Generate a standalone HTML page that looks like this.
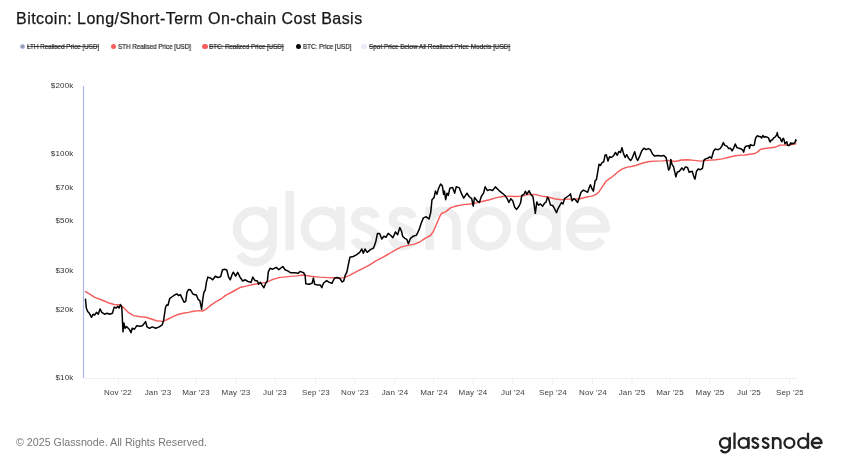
<!DOCTYPE html>
<html><head><meta charset="utf-8"><title>Bitcoin: Long/Short-Term On-chain Cost Basis</title>
<style>
html,body{margin:0;padding:0;background:#fff;}
body{width:849px;height:466px;position:relative;overflow:hidden;font-family:"Liberation Sans",sans-serif;}
#clip{position:absolute;left:0;top:0;width:802.5px;height:420px;overflow:hidden;}
.title{position:absolute;left:15.8px;top:8.7px;font-size:16px;color:#161616;-webkit-text-stroke:0.25px #161616;white-space:nowrap;letter-spacing:0.46px;line-height:20px;}
.lg{position:absolute;top:41.6px;height:9px;line-height:9px;font-size:7px;color:#1c1c1c;-webkit-text-stroke:0.18px #1c1c1c;white-space:nowrap;transform-origin:0 50%;}
.lg.off::after{content:"";position:absolute;left:0;right:0;top:4.4px;height:0.8px;background:rgba(28,28,28,0.75);}
.title,.lg,.yl,.xl,.foot,.logo,.wm{will-change:transform;}
.dot{position:absolute;top:43.7px;width:5.2px;height:5.2px;border-radius:50%;}
.yl{position:absolute;left:30px;width:43.4px;text-align:right;font-size:8px;line-height:10px;color:#333;letter-spacing:0.15px;}
.xl{position:absolute;top:387px;width:60px;text-align:center;font-size:8px;line-height:11px;color:#3c3c3c;white-space:nowrap;letter-spacing:0.15px;}
.wm{position:absolute;left:231px;top:171px;font-size:83px;line-height:96px;color:#ececec;-webkit-text-stroke:1.2px #ececec;white-space:nowrap;}
.foot{position:absolute;left:15.8px;top:435.2px;font-size:10.7px;line-height:14px;color:#777;white-space:nowrap;}
.logo{position:absolute;left:717.3px;top:427.5px;font-size:22.7px;line-height:28px;color:#222;white-space:nowrap;-webkit-text-stroke:0.35px #222;letter-spacing:0.22px;}
svg{position:absolute;left:0;top:0;}
</style></head><body>
<div class="title">Bitcoin: Long/Short-Term On-chain Cost Basis</div>
<div class="dot" style="left:20.1px;background:#999;box-sizing:border-box;border:0.9px solid #a9b8f3"></div><div class="lg off" style="left:26.8px;transform:scaleX(0.897)">LTH Realised Price [USD]</div>
<div class="dot" style="left:110.6px;background:#fb5d5d"></div><div class="lg" style="left:117.7px;transform:scaleX(0.893)">STH Realised Price [USD]</div>
<div class="dot" style="left:202.4px;background:#fb5d5d"></div><div class="lg off" style="left:209.4px;transform:scaleX(0.891)">BTC: Realized Price [USD]</div>
<div class="dot" style="left:295.6px;background:#0a0a0a"></div><div class="lg" style="left:302.7px;transform:scaleX(0.891)">BTC: Price [USD]</div>
<div class="dot" style="left:361.4px;background:#ebebfa"></div><div class="lg off" style="left:368.7px;transform:scaleX(0.911)">Spot Price Below All Realized Price Models [USD]</div>
<div id="clip">
<div class="yl" style="top:80.9px">$200k</div><div class="yl" style="top:148.5px">$100k</div><div class="yl" style="top:183.2px">$70k</div><div class="yl" style="top:216.0px">$50k</div><div class="yl" style="top:265.8px">$30k</div><div class="yl" style="top:305.3px">$20k</div><div class="yl" style="top:372.9px">$10k</div>
<div class="xl" style="left:88.4px">Nov '22</div><div class="xl" style="left:128.0px">Jan '23</div><div class="xl" style="left:166.2px">Mar '23</div><div class="xl" style="left:205.8px">May '23</div><div class="xl" style="left:245.3px">Jul '23</div><div class="xl" style="left:285.5px">Sep '23</div><div class="xl" style="left:325.1px">Nov '23</div><div class="xl" style="left:364.7px">Jan '24</div><div class="xl" style="left:403.6px">Mar '24</div><div class="xl" style="left:443.1px">May '24</div><div class="xl" style="left:482.7px">Jul '24</div><div class="xl" style="left:522.9px">Sep '24</div><div class="xl" style="left:562.5px">Nov '24</div><div class="xl" style="left:602.0px">Jan '25</div><div class="xl" style="left:640.3px">Mar '25</div><div class="xl" style="left:679.8px">May '25</div><div class="xl" style="left:719.4px">Jul '25</div><div class="xl" style="left:759.6px">Sep '25</div>
<svg width="849" height="466" viewBox="0 0 849 466">
<defs><g id="wmk" fill="none" stroke-width="8.4" stroke-linecap="butt" stroke-linejoin="round">
<circle cx="22.05" cy="-21.5" r="17.85"/><path d="M39.9,-43.4 V-5.65 A17.85,17.85 0 0 1 6.91,3.81"/>
<path d="M57.05,-59.2 V0"/>
<circle cx="89.9" cy="-21.5" r="17.85"/><path d="M107.75,-43.4 V0"/>
<path id="ess" d="M143.2,-32.2 C141.5,-36.8 137.5,-39.1 132.6,-39.1 C126.6,-39.1 122.6,-35.8 122.6,-31.3 C122.6,-26.5 126.5,-24.5 132.3,-22.3 C138.8,-19.9 142.9,-17.5 142.9,-12.2 C142.9,-7 138.5,-3.9 132.5,-3.9 C127,-3.9 123.5,-6.8 122.2,-11.3"/>
<use href="#ess" x="37.4"/>
<path d="M196.9,-43.4 V0 M196.9,-25.85 A13.45,13.45 0 0 1 223.8,-25.85 V0"/>
<circle cx="256.3" cy="-21.5" r="17.85"/>
<circle cx="306" cy="-21.5" r="17.85"/><path d="M323.85,-58.6 V0"/>
<path d="M337.45,-21.5 H373.15 A17.85,17.85 0 1 0 369.37,-10.51"/>
</g></defs>
<use href="#wmk" transform="translate(232.7,250.1)" stroke="#eeeeee"/>
<line x1="83.5" y1="86" x2="83.5" y2="378" stroke="#a9b8ee" stroke-width="1.2"/>
<line x1="84" y1="378.5" x2="797" y2="378.5" stroke="#f0f0f0" stroke-width="1"/>
<line x1="118.4" y1="378.5" x2="118.4" y2="384" stroke="#efefef" stroke-width="1"/><line x1="158.0" y1="378.5" x2="158.0" y2="384" stroke="#efefef" stroke-width="1"/><line x1="196.2" y1="378.5" x2="196.2" y2="384" stroke="#efefef" stroke-width="1"/><line x1="235.8" y1="378.5" x2="235.8" y2="384" stroke="#efefef" stroke-width="1"/><line x1="275.3" y1="378.5" x2="275.3" y2="384" stroke="#efefef" stroke-width="1"/><line x1="315.5" y1="378.5" x2="315.5" y2="384" stroke="#efefef" stroke-width="1"/><line x1="355.1" y1="378.5" x2="355.1" y2="384" stroke="#efefef" stroke-width="1"/><line x1="394.7" y1="378.5" x2="394.7" y2="384" stroke="#efefef" stroke-width="1"/><line x1="433.6" y1="378.5" x2="433.6" y2="384" stroke="#efefef" stroke-width="1"/><line x1="473.1" y1="378.5" x2="473.1" y2="384" stroke="#efefef" stroke-width="1"/><line x1="512.7" y1="378.5" x2="512.7" y2="384" stroke="#efefef" stroke-width="1"/><line x1="552.9" y1="378.5" x2="552.9" y2="384" stroke="#efefef" stroke-width="1"/><line x1="592.5" y1="378.5" x2="592.5" y2="384" stroke="#efefef" stroke-width="1"/><line x1="632.0" y1="378.5" x2="632.0" y2="384" stroke="#efefef" stroke-width="1"/><line x1="670.3" y1="378.5" x2="670.3" y2="384" stroke="#efefef" stroke-width="1"/><line x1="709.8" y1="378.5" x2="709.8" y2="384" stroke="#efefef" stroke-width="1"/><line x1="749.4" y1="378.5" x2="749.4" y2="384" stroke="#efefef" stroke-width="1"/><line x1="789.6" y1="378.5" x2="789.6" y2="384" stroke="#efefef" stroke-width="1"/>
<path d="M85.5,291.6 L89.4,293.9 L94.7,297.4 L101.8,300.0 L108.0,302.7 L114.2,304.5 L119.5,304.8 L123.0,307.1 L128.3,312.4 L133.6,315.6 L140.7,316.8 L146.0,317.2 L151.3,319.0 L156.6,320.7 L162.8,321.4 L167.2,319.5 L172.5,316.8 L177.8,314.5 L183.1,313.3 L188.4,312.4 L193.7,311.2 L199.0,310.6 L202.5,311.0 L206.0,309.2 L209.6,306.2 L215.3,302.2 L220.6,299.2 L225.9,295.1 L231.2,292.5 L236.5,289.5 L240.9,287.2 L247.1,285.9 L254.2,284.2 L261.2,283.1 L266.5,282.4 L271.8,279.8 L278.9,277.6 L287.7,276.6 L296.6,275.9 L303.6,275.0 L310.7,276.2 L319.5,277.1 L328.4,277.6 L337.2,278.0 L344.3,277.6 L349.6,275.3 L356.4,271.6 L362.9,268.3 L369.3,265.1 L375.8,260.8 L382.2,257.6 L388.6,254.0 L395.1,250.1 L401.5,246.9 L407.9,245.4 L414.4,244.1 L419.7,242.0 L425.1,238.3 L430.5,235.5 L433.7,230.8 L436.9,223.3 L440.1,215.8 L441.8,213.2 L445.5,211.9 L450.9,207.6 L457.3,205.7 L463.7,204.6 L470.2,204.0 L476.6,202.9 L483.0,201.2 L489.5,199.7 L496.4,197.6 L502.9,196.5 L509.3,196.1 L515.8,196.5 L522.2,196.1 L528.6,194.4 L535.1,194.4 L541.5,196.1 L547.9,197.0 L554.4,198.7 L560.8,199.7 L567.3,199.1 L573.7,199.1 L580.1,198.7 L586.6,197.0 L591.9,196.1 L596.2,194.4 L599.4,191.2 L602.7,186.2 L605.9,181.5 L609.1,178.9 L612.3,176.8 L615.5,174.0 L618.8,171.2 L623.0,168.6 L627.3,167.1 L631.6,166.5 L636.4,165.2 L642.9,163.0 L649.3,161.5 L655.8,161.1 L662.2,160.9 L668.6,160.4 L675.1,161.5 L681.5,160.0 L687.9,159.8 L694.4,160.4 L700.8,161.1 L707.3,160.4 L715.8,159.8 L722.3,158.9 L728.7,157.2 L735.2,155.7 L741.6,155.1 L744.8,155.0 L749.7,154.3 L754.0,153.8 L756.9,152.4 L758.8,150.9 L760.3,149.5 L763.2,148.8 L767.1,148.2 L770.9,147.7 L774.8,147.3 L777.2,146.3 L779.1,145.3 L782.5,145.1 L786.4,144.9 L790.2,144.9 L793.1,144.3 L795.8,143.7" fill="none" stroke="#f75c5c" stroke-width="1.45" stroke-linejoin="round" stroke-linecap="round"/>
<path d="M85.5,299.2 L86.3,308.0 L87.7,311.5 L89.4,313.3 L91.6,317.3 L93.0,314.2 L94.7,315.0 L96.5,312.4 L98.3,314.2 L100.0,308.9 L101.8,312.4 L104.5,314.2 L107.1,313.3 L109.8,314.2 L112.4,313.3 L114.2,307.1 L116.3,308.0 L117.7,306.2 L119.1,308.0 L120.5,304.5 L121.8,307.1 L123.0,331.8 L123.9,323.0 L125.1,328.3 L126.5,326.5 L129.2,329.2 L131.0,332.7 L132.2,328.3 L134.5,329.2 L136.8,325.7 L139.8,326.2 L142.4,325.7 L145.6,321.6 L147.0,326.9 L149.5,328.3 L152.2,326.9 L155.7,328.3 L159.2,326.9 L162.2,324.8 L163.6,320.4 L165.4,308.0 L166.5,305.0 L168.0,305.3 L169.8,298.3 L172.5,296.5 L175.1,294.7 L176.9,293.9 L178.7,295.6 L180.4,294.7 L182.2,298.3 L184.0,302.2 L185.7,301.4 L187.0,292.1 L188.7,289.4 L190.5,289.8 L192.8,293.9 L194.6,294.7 L196.3,294.7 L198.1,299.2 L199.9,300.9 L201.6,309.2 L202.9,298.3 L203.9,292.1 L205.2,290.3 L206.4,282.4 L207.8,277.1 L210.5,278.0 L212.7,279.8 L215.3,276.2 L218.0,277.5 L220.6,276.7 L222.4,270.0 L224.5,269.2 L226.8,270.0 L228.6,277.1 L230.3,279.8 L232.1,274.5 L233.3,272.2 L235.6,276.2 L237.7,272.3 L240.0,277.1 L242.7,281.0 L245.3,279.8 L248.0,281.5 L251.0,282.4 L252.8,277.1 L255.0,280.6 L257.4,281.0 L258.6,284.2 L260.4,282.4 L262.1,285.1 L263.9,287.7 L265.7,283.3 L267.4,280.6 L268.3,271.8 L270.1,268.3 L272.7,269.2 L276.3,267.4 L278.9,269.7 L282.8,266.5 L285.1,269.7 L287.7,270.9 L290.4,272.7 L294.8,272.7 L298.3,273.2 L300.1,271.4 L303.6,272.7 L305.1,275.3 L305.8,283.8 L309.0,284.2 L312.1,283.3 L313.4,278.0 L314.6,284.2 L317.8,285.1 L320.4,285.1 L321.8,287.7 L323.4,283.3 L326.6,280.6 L329.3,282.4 L331.9,283.3 L334.6,278.0 L337.2,277.5 L339.9,278.5 L342.2,282.0 L343.7,281.0 L345.2,275.3 L346.9,271.8 L348.7,263.0 L349.9,257.3 L353.2,256.5 L356.4,254.8 L359.7,252.3 L361.8,249.0 L363.3,253.3 L365.0,249.0 L367.2,252.3 L370.4,249.7 L373.6,248.0 L375.8,241.5 L377.5,233.4 L379.6,233.4 L381.8,239.0 L383.9,236.2 L386.1,237.2 L388.2,233.4 L390.8,235.5 L392.9,237.7 L395.5,231.9 L397.6,234.7 L399.8,227.6 L401.5,231.2 L402.6,236.2 L404.7,238.3 L406.9,239.4 L408.4,243.7 L410.5,238.3 L413.3,236.2 L416.5,235.1 L419.1,229.7 L421.2,223.3 L423.4,217.9 L426.2,216.8 L429.0,219.0 L430.7,212.6 L432.0,199.7 L434.1,197.5 L435.4,191.1 L436.9,194.3 L438.4,188.9 L440.6,184.0 L442.3,185.7 L443.6,194.3 L444.4,191.1 L445.7,199.7 L447.0,193.2 L448.3,195.4 L449.8,188.3 L452.6,187.4 L454.7,193.2 L456.2,186.8 L459.4,187.9 L461.6,193.9 L463.7,198.2 L467.0,193.2 L469.1,196.5 L471.7,198.6 L473.2,206.1 L474.5,197.5 L477.0,200.8 L479.4,202.5 L481.3,196.5 L483.5,193.2 L485.2,186.8 L487.3,190.5 L489.9,189.6 L492.6,190.5 L495.4,186.9 L497.5,189.0 L499.7,191.2 L502.4,193.3 L505.0,195.5 L507.2,198.7 L508.9,202.5 L510.8,198.7 L512.7,200.8 L514.7,207.3 L516.6,209.4 L519.0,206.2 L520.5,203.0 L521.8,195.5 L523.9,194.4 L525.4,191.2 L526.9,194.4 L529.1,190.7 L530.8,194.4 L532.9,196.5 L534.2,205.1 L535.3,213.3 L536.8,201.9 L538.5,205.1 L540.4,204.0 L542.6,206.2 L544.7,203.0 L546.2,201.9 L547.5,197.0 L549.0,199.7 L550.5,205.1 L552.7,205.5 L554.4,208.3 L556.5,212.6 L558.2,208.3 L560.0,205.1 L561.5,202.5 L563.0,204.0 L564.5,198.7 L566.8,197.0 L569.0,195.5 L570.5,193.9 L572.0,200.8 L573.7,198.7 L575.4,199.7 L577.6,202.5 L579.3,197.6 L581.0,192.2 L583.3,190.1 L585.5,191.2 L587.6,192.2 L589.1,187.9 L590.4,184.7 L592.1,189.0 L593.4,191.2 L595.2,180.4 L596.4,179.8 L597.9,170.8 L599.0,164.3 L600.5,165.4 L602.0,162.6 L603.7,161.8 L605.0,155.3 L606.3,154.7 L608.0,161.1 L609.5,156.8 L611.2,157.5 L613.4,155.8 L615.5,152.5 L617.3,155.3 L618.8,151.5 L620.5,152.5 L622.0,147.6 L623.5,153.6 L625.2,157.5 L626.7,154.7 L628.4,157.9 L630.6,160.5 L632.1,158.3 L634.7,151.8 L636.4,158.3 L637.7,160.4 L639.7,156.1 L641.8,150.8 L643.9,148.2 L646.1,149.7 L648.2,148.6 L650.4,149.7 L652.5,154.0 L654.7,156.1 L657.9,155.5 L661.1,156.1 L663.9,155.5 L666.1,157.6 L667.3,163.6 L668.6,170.1 L669.9,167.9 L670.8,159.4 L672.1,164.7 L673.6,166.9 L674.8,172.2 L675.9,176.9 L677.2,172.2 L679.4,171.2 L681.9,167.9 L683.6,170.1 L685.4,166.9 L687.5,167.5 L689.2,172.2 L692.2,171.2 L693.9,176.9 L695.0,179.1 L696.5,171.2 L698.2,169.0 L700.4,169.7 L702.5,168.4 L703.8,160.4 L705.5,158.9 L707.7,158.3 L709.8,156.8 L711.5,158.3 L713.7,150.8 L715.4,149.1 L718.0,149.7 L720.1,148.6 L721.8,146.1 L723.3,142.6 L724.8,145.4 L727.0,146.1 L728.7,148.6 L730.4,148.2 L732.1,150.8 L733.9,147.6 L735.2,143.9 L736.9,147.6 L739.0,148.2 L741.4,149.0 L742.9,150.4 L743.7,152.1 L744.6,148.0 L745.8,146.3 L747.2,146.1 L748.7,145.6 L749.5,148.2 L750.4,144.6 L751.6,145.3 L753.0,145.6 L754.3,145.1 L755.0,140.8 L755.9,137.4 L757.4,135.7 L758.8,136.6 L760.3,136.6 L761.7,137.9 L762.9,135.5 L764.2,137.2 L765.6,136.6 L767.1,137.2 L768.5,137.9 L769.5,140.8 L770.1,142.0 L771.1,140.3 L772.4,139.8 L773.6,137.9 L774.8,137.4 L775.9,135.9 L776.7,135.0 L777.3,132.6 L777.9,135.9 L778.6,137.2 L780.1,137.9 L781.1,140.8 L782.0,141.7 L782.7,138.8 L783.5,138.4 L784.3,140.8 L784.9,143.7 L785.9,142.7 L786.9,141.7 L787.5,145.3 L788.8,145.6 L789.8,144.6 L790.7,142.7 L791.7,144.0 L792.7,143.2 L793.6,143.7 L794.6,142.7 L795.3,141.7 L795.8,139.8 L796.2,140.5" fill="none" stroke="#000" stroke-width="1.5" stroke-linejoin="round" stroke-linecap="round"/>
</svg>
</div>
<div class="foot">© 2025 Glassnode. All Rights Reserved.</div>
<svg width="849" height="466" viewBox="0 0 849 466"><use href="#wmk" transform="translate(718.8,448.9) scale(0.2755)" stroke="#222"/></svg>
</body></html>
